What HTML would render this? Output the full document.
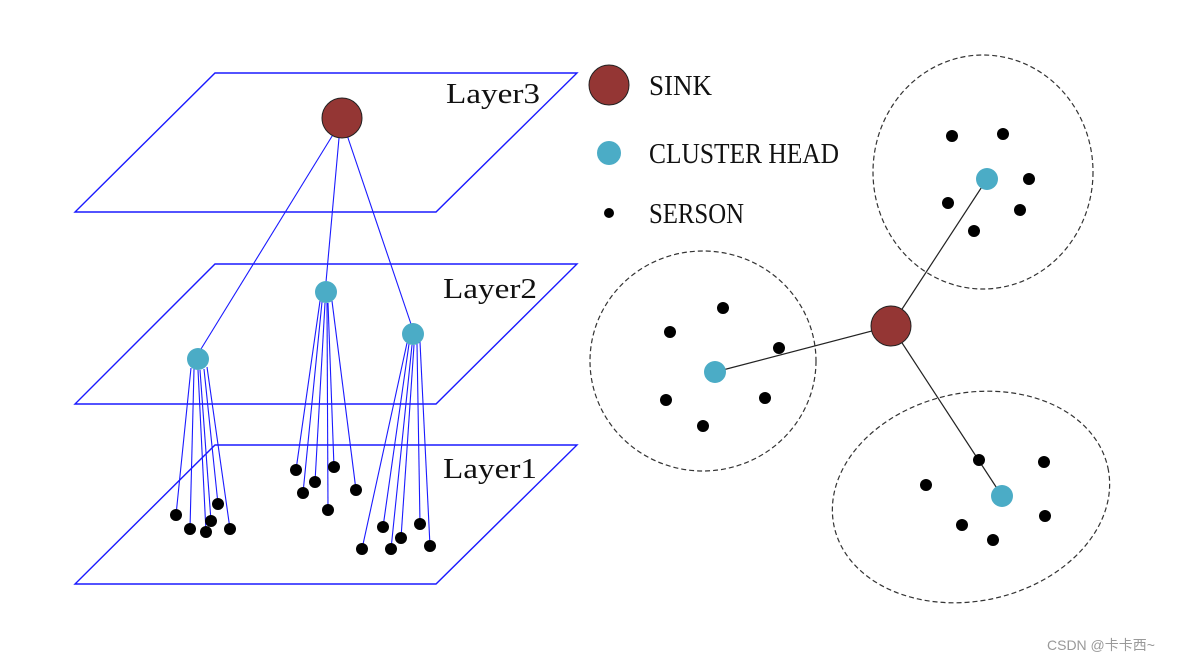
<!DOCTYPE html>
<html><head><meta charset="utf-8"><style>
html,body{margin:0;padding:0;background:#fff;}
svg{display:block;}
text{font-family:"Liberation Serif",serif;fill:#111;}
</style></head><body>
<svg width="1178" height="661" viewBox="0 0 1178 661" xmlns="http://www.w3.org/2000/svg">
<g fill="none" stroke="#1a1aff" stroke-width="1.4">
<polygon points="215,73 577,73 436,212 75,212"/>
<polygon points="215,264 577,264 436,404 75,404"/>
<polygon points="215,445 577,445 436,584 75,584"/>
</g>
<g stroke="#1a1aff" stroke-width="1.1">
<line x1="334" y1="133" x2="201" y2="349"/>
<line x1="339" y1="138" x2="326" y2="282"/>
<line x1="347" y1="135" x2="411" y2="324"/>
<line x1="191" y1="368" x2="176" y2="515"/><line x1="194" y1="369" x2="190" y2="529"/><line x1="198" y1="370" x2="206" y2="532"/><line x1="200" y1="370" x2="211" y2="521"/><line x1="204" y1="369" x2="218" y2="504"/><line x1="207" y1="367" x2="230" y2="529"/>
<line x1="320" y1="301" x2="296" y2="470"/><line x1="322" y1="302" x2="303" y2="493"/><line x1="325" y1="303" x2="315" y2="482"/><line x1="328" y1="303" x2="334" y2="467"/><line x1="327" y1="303" x2="328" y2="510"/><line x1="332" y1="301" x2="356" y2="490"/>
<line x1="407" y1="343" x2="362" y2="549"/><line x1="409" y1="344" x2="383" y2="527"/><line x1="412" y1="345" x2="391" y2="549"/><line x1="414" y1="345" x2="401" y2="538"/><line x1="417" y1="344" x2="420" y2="524"/><line x1="420" y1="342" x2="430" y2="546"/>
</g>
<circle cx="342" cy="118" r="20" fill="#943634" stroke="#222" stroke-width="1"/>
<g fill="#4bacc6"><circle cx="198" cy="359" r="11"/><circle cx="326" cy="292" r="11"/><circle cx="413" cy="334" r="11"/></g>
<g fill="#000">
<circle cx="176" cy="515" r="6"/><circle cx="190" cy="529" r="6"/><circle cx="206" cy="532" r="6"/><circle cx="211" cy="521" r="6"/><circle cx="218" cy="504" r="6"/><circle cx="230" cy="529" r="6"/>
<circle cx="296" cy="470" r="6"/><circle cx="303" cy="493" r="6"/><circle cx="315" cy="482" r="6"/><circle cx="334" cy="467" r="6"/><circle cx="328" cy="510" r="6"/><circle cx="356" cy="490" r="6"/>
<circle cx="362" cy="549" r="6"/><circle cx="383" cy="527" r="6"/><circle cx="391" cy="549" r="6"/><circle cx="401" cy="538" r="6"/><circle cx="420" cy="524" r="6"/><circle cx="430" cy="546" r="6"/>
</g>
<text x="446" y="103" font-size="28" textLength="94" lengthAdjust="spacingAndGlyphs">Layer3</text>
<text x="443" y="298" font-size="28" textLength="94" lengthAdjust="spacingAndGlyphs">Layer2</text>
<text x="443" y="478" font-size="28" textLength="94" lengthAdjust="spacingAndGlyphs">Layer1</text>
<circle cx="609" cy="85" r="20" fill="#943634" stroke="#222" stroke-width="1"/>
<circle cx="609" cy="153" r="12" fill="#4bacc6"/>
<circle cx="609" cy="213" r="5" fill="#000"/>
<text x="649" y="95" font-size="28" textLength="63" lengthAdjust="spacingAndGlyphs">SINK</text>
<text x="649" y="163" font-size="28" textLength="190" lengthAdjust="spacingAndGlyphs">CLUSTER HEAD</text>
<text x="649" y="223" font-size="28" textLength="95" lengthAdjust="spacingAndGlyphs">SERSON</text>
<g fill="none" stroke="#333" stroke-width="1.2" stroke-dasharray="5,3">
<ellipse cx="983" cy="172" rx="110" ry="117"/>
<ellipse cx="703" cy="361" rx="113" ry="110"/>
<ellipse cx="971" cy="497" rx="140" ry="104" transform="rotate(-12 971 497)"/>
</g>
<g stroke="#222" stroke-width="1.2">
<line x1="891" y1="326" x2="987" y2="179"/>
<line x1="891" y1="326" x2="715" y2="372"/>
<line x1="891" y1="326" x2="1002" y2="496"/>
</g>
<circle cx="891" cy="326" r="20" fill="#943634" stroke="#222" stroke-width="1"/>
<g fill="#4bacc6"><circle cx="987" cy="179" r="11"/><circle cx="715" cy="372" r="11"/><circle cx="1002" cy="496" r="11"/></g>
<g fill="#000">
<circle cx="952" cy="136" r="6"/><circle cx="1003" cy="134" r="6"/><circle cx="1029" cy="179" r="6"/><circle cx="948" cy="203" r="6"/><circle cx="1020" cy="210" r="6"/><circle cx="974" cy="231" r="6"/>
<circle cx="723" cy="308" r="6"/><circle cx="670" cy="332" r="6"/><circle cx="779" cy="348" r="6"/><circle cx="666" cy="400" r="6"/><circle cx="765" cy="398" r="6"/><circle cx="703" cy="426" r="6"/>
<circle cx="979" cy="460" r="6"/><circle cx="1044" cy="462" r="6"/><circle cx="926" cy="485" r="6"/><circle cx="1045" cy="516" r="6"/><circle cx="962" cy="525" r="6"/><circle cx="993" cy="540" r="6"/>
</g>
<text x="1047" y="650" font-size="14" style="font-family:'Liberation Sans','Noto Sans CJK SC',sans-serif;fill:#999">CSDN @卡卡西~</text>
</svg>
</body></html>
